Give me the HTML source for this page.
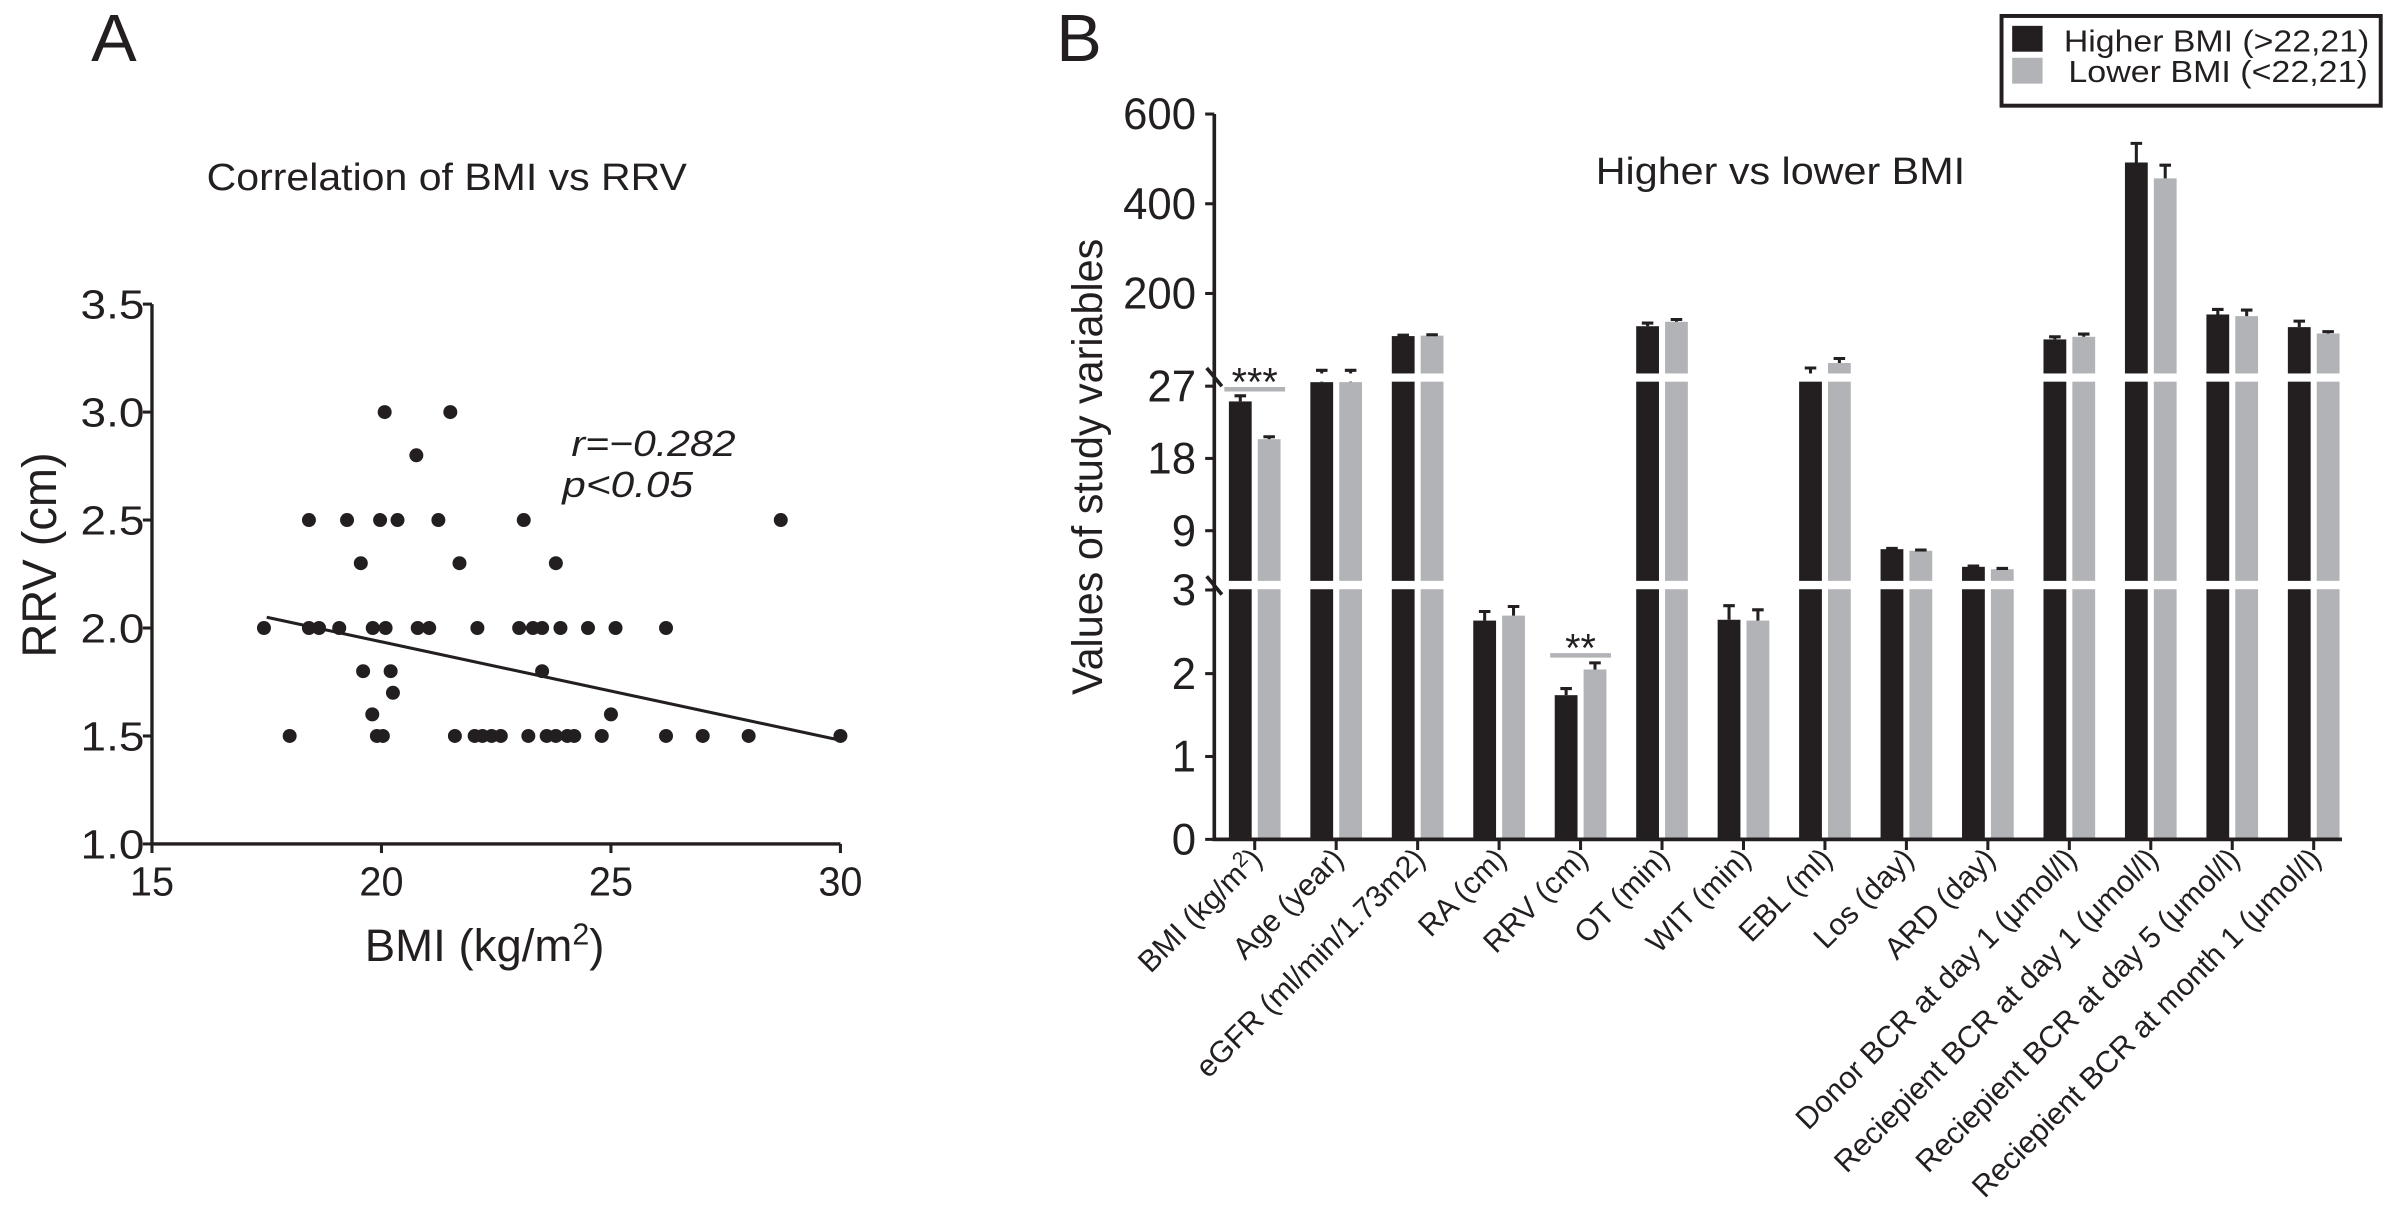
<!DOCTYPE html>
<html><head><meta charset="utf-8">
<style>
html,body{margin:0;padding:0;background:#fff;}
svg{display:block;}
text{font-family:"Liberation Sans",sans-serif;fill:#231f20;}
</style></head>
<body>
<svg id="fig" xmlns="http://www.w3.org/2000/svg" width="2383" height="1218" viewBox="0 0 1568 801" preserveAspectRatio="none">
  <rect x="0" y="0" width="1568" height="801" fill="#fff"/>
  <g id="panelA"></g>
  <g id="panelB"></g>
</svg>
<script>
// ---------- Panel A data ----------
const scatterBMI = [17.44,18.42,18.64,19.08,19.81,20.09,20.79,21.04,22.09,23.0,23.3,23.5,23.9,24.5,25.1,26.2,
  18.0,19.9,20.03,21.6,22.03,22.2,22.4,22.6,23.2,23.6,23.8,24.05,24.2,24.8,26.2,27.0,28.0,30.0,
  20.07,21.5,20.76,
  18.42,19.25,19.97,20.35,21.24,23.1,28.7,
  19.55,21.7,23.8,
  19.6,20.2,23.5,20.25,19.8,25.0];
const scatterRRV = [2,2,2,2,2,2,2,2,2,2,2,2,2,2,2,2,
  1.5,1.5,1.5,1.5,1.5,1.5,1.5,1.5,1.5,1.5,1.5,1.5,1.5,1.5,1.5,1.5,1.5,1.5,
  3.0,3.0,2.8,
  2.5,2.5,2.5,2.5,2.5,2.5,2.5,
  2.3,2.3,2.3,
  1.8,1.8,1.8,1.7,1.6,1.6];
const fitX = [17.5, 30];
const fitY = [2.05, 1.48];
const xTicksA = [15,20,25,30];
const yTicksA = [1.0,1.5,2.0,2.5,3.0,3.5];
const yTickLabelsA = ["1.0","1.5","2.0","2.5","3.0","3.5"];

// ---------- Panel B data ----------
const categories = ["BMI (kg/m\u00B2)","Age (year)","eGFR (ml/min/1.73m2)","RA (cm)","RRV (cm)","OT (min)","WIT (min)","EBL (ml)","Los (day)","ARD (day)","Donor BCR at day 1 (\u03BCmol/l)","Reciepient BCR at day 1 (\u03BCmol/l)","Reciepient BCR at day 5 (\u03BCmol/l)","Reciepient BCR at month 1 (\u03BCmol/l)"];
const higherBMI = [25.1,27.5,105,2.64,1.74,127,2.65,27.9,6.7,4.5,97.6,492,153.2,125];
const higherErr = [0.7,1.2,2,0.11,0.08,7,0.17,6,0.1,0.1,5.8,42.6,11.2,13.3];
const lowerBMI = [20.4,27.5,106,2.70,2.05,137,2.64,45,6.5,4.2,103.4,456.6,149.5,110.8];
const lowerErr = [0.3,1.2,2,0.11,0.08,5,0.13,10,0.1,0.1,6.1,29.4,13.5,4.2];
const yTicksB = [0,1,2,3,9,18,27,200,400,600];
const yTickLabelsB = ["0","1","2","3","9","18","27","200","400","600"];
const sigGroups = [0,4];
const sigLabels = ["***","**"];

const NS = "http://www.w3.org/2000/svg";
function mk(tag, attrs, parent){ const e=document.createElementNS(NS,tag); for(const k in attrs) e.setAttribute(k,attrs[k]); parent.appendChild(e); return e; }

// ---------- Panel A ----------
const A = document.getElementById('panelA');
const xA = v => 100 + (v-15)/15*(553-100);
const yA = v => 555 - (v-1.0)/2.5*(555-200);
let t;
t = mk('text',{x:60,y:40,'font-size':44,textLength:30,lengthAdjust:'spacingAndGlyphs'},A); t.textContent='A';
 
t = mk('text',{x:136,y:125,'font-size':25,textLength:316,lengthAdjust:'spacingAndGlyphs'},A); t.textContent='Correlation of BMI vs RRV';
 
let ax = mk('path',{d:`M100 200 V555 H553`,stroke:'#231f20','stroke-width':2.2,fill:'none'},A);
 
yTicksA.forEach((v,i)=>{
  const l=mk('line',{x1:94,x2:100,y1:yA(v),y2:yA(v),stroke:'#231f20','stroke-width':2},A);
   
  const tx=mk('text',{x:95,y:yA(v)+9.5,'font-size':27,'text-anchor':'end',textLength:42,lengthAdjust:'spacingAndGlyphs'},A);
  tx.textContent=yTickLabelsA[i];
   
});
xTicksA.forEach(v=>{
  const l=mk('line',{x1:xA(v),x2:xA(v),y1:555,y2:561,stroke:'#231f20','stroke-width':2},A);
   
  const tx=mk('text',{x:xA(v),y:589,'font-size':27,'text-anchor':'middle',textLength:29,lengthAdjust:'spacingAndGlyphs'},A);
  tx.textContent=String(v);
   
});
t = mk('text',{x:0,y:0,'font-size':32,'text-anchor':'middle',transform:'translate(37,365) rotate(-90)',textLength:135,lengthAdjust:'spacingAndGlyphs'},A);
t.textContent='RRV (cm)';
 
t = mk('text',{x:240,y:632,'font-size':30},A);
t.innerHTML='BMI (kg/m<tspan dy="-11" font-size="20">2</tspan><tspan dy="11">)</tspan>';
 
const fl = mk('line',{x1:xA(fitX[0]),y1:yA(fitY[0]),x2:xA(fitX[1]),y2:yA(fitY[1]),stroke:'#231f20','stroke-width':2},A);
 
scatterBMI.forEach((b,i)=>{
  const c=mk('circle',{cx:xA(b),cy:yA(scatterRRV[i]),r:4.6,fill:'#231f20'},A);
   
});
t = mk('text',{x:376,y:300,'font-size':24,'font-style':'italic',textLength:108,lengthAdjust:'spacingAndGlyphs'},A); t.textContent='r=\u22120.282';
 
t = mk('text',{x:370,y:327,'font-size':24,'font-style':'italic',textLength:86,lengthAdjust:'spacingAndGlyphs'},A); t.textContent='p<0.05';
 

// ---------- Panel B ----------
const B = document.getElementById('panelB');
function yB(v){ if(v<=3) return 552 - v*54.5; if(v<=28) return 349-(v-9)*5.28; return 193-(v-200)*0.295; }
const x0 = 808.6, gap = 53.6, bw = 15, goff = 19;
const BLACK='#231f20', GREY='#b1b3b6';
t = mk('text',{x:695,y:40,'font-size':44,textLength:30,lengthAdjust:'spacingAndGlyphs'},B); t.textContent='B';
 
t = mk('text',{x:1050,y:121,'font-size':25,textLength:243,lengthAdjust:'spacingAndGlyphs'},B); t.textContent='Higher vs lower BMI';
 
t = mk('text',{x:0,y:0,'font-size':28,'text-anchor':'middle',transform:'translate(725,307) rotate(-90)',textLength:300,lengthAdjust:'spacingAndGlyphs'},B);
t.textContent='Values of study variables';
 

categories.forEach((c,i)=>{
  const bx = x0 + i*gap;
  [[higherBMI,higherErr,BLACK,0,'bar-higher-bmi'],[lowerBMI,lowerErr,GREY,goff,'bar-lower-bmi']].forEach(s=>{
    const v=s[0][i], e=s[1][i], x=bx+s[3], yt=yB(v), ye=yB(v+e);
    const r=mk('rect',{x:x,y:yt,width:bw,height:552-yt,fill:s[2]},B);
     
    const el=mk('path',{d:`M${x+bw/2} ${yt} V${ye} M${x+bw/2-3.8} ${ye} H${x+bw/2+3.8}`,stroke:BLACK,'stroke-width':2,fill:'none'},B);
     
  });
});
// break gaps
[[245.6,5.4],[382,5.5]].forEach(g=>{
  const r=mk('rect',{x:801,y:g[0],width:745,height:g[1],fill:'#fff'},B);
   
});
let axB = mk('path',{d:'M799 75 V552 H1541',stroke:BLACK,'stroke-width':2.4,fill:'none'},B);
 
[248,385].forEach(y=>{
  const l=mk('line',{x1:794,y1:y-6,x2:804,y2:y+6,stroke:BLACK,'stroke-width':2.4},B);
   
});
yTicksB.forEach((v,i)=>{
  const y = v===3 ? 388 : yB(v);
  const l=mk('line',{x1:793,x2:799,y1:y,y2:y,stroke:BLACK,'stroke-width':2},B);
   
  const lbl=yTickLabelsB[i];
  const tx=mk('text',{x:787,y:y+10,'font-size':29,'text-anchor':'end',textLength:lbl.length*16,lengthAdjust:'spacingAndGlyphs'},B);
  tx.textContent=lbl;
   
});
categories.forEach((c,i)=>{
  const cx = x0 + i*gap + (bw+goff)/2;
  const l=mk('line',{x1:cx,x2:cx,y1:552,y2:559,stroke:BLACK,'stroke-width':2},B);
   
  const tx=mk('text',{x:0,y:0,'font-size':20,'text-anchor':'end',transform:`translate(${cx+6},566) rotate(-45)`},B);
  if(i===0){ tx.innerHTML='BMI (kg/m<tspan dy="-7" font-size="14">2</tspan><tspan dy="7">)</tspan>'; }
  else tx.textContent=c;
   
});
sigGroups.forEach((g,k)=>{
  const gx = x0 + g*gap;
  const yl = k===0 ? 256 : 431;
  const l=mk('line',{x1:gx-3,x2:gx+bw+goff+3,y1:yl,y2:yl,stroke:GREY,'stroke-width':3},B);
   
  const tx=mk('text',{x:gx+(bw+goff)/2,y:yl+4,'font-size':26,'text-anchor':'middle'},B);
  tx.textContent=sigLabels[k];
   
});
// legend
const lg = mk('g',{},B);
 
mk('rect',{x:1317,y:10.5,width:249.5,height:59,fill:'#fff',stroke:BLACK,'stroke-width':2.6},lg);
let sw=mk('rect',{x:1324,y:17,width:20,height:17,fill:BLACK},lg);
 
sw=mk('rect',{x:1324,y:38,width:20,height:17,fill:GREY},lg);
 
t=mk('text',{x:1358,y:34,'font-size':20,textLength:201,lengthAdjust:'spacingAndGlyphs'},lg); t.textContent='Higher BMI (>22,21)';
 
t=mk('text',{x:1361,y:54,'font-size':20,textLength:197,lengthAdjust:'spacingAndGlyphs'},lg); t.textContent='Lower BMI (<22,21)';
 
</script>
</body></html>
